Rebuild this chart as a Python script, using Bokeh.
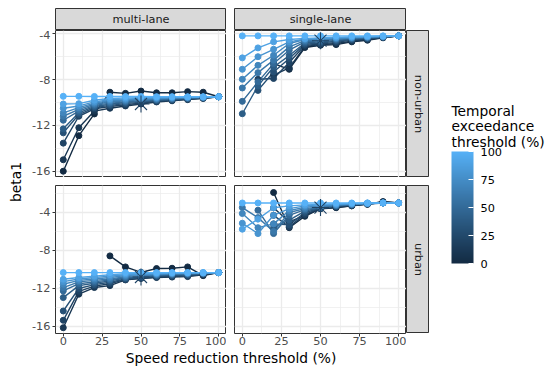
import math
from bokeh.plotting import figure
from bokeh.layouts import row, column
from bokeh.models import Range1d, FixedTicker, Label, ColorBar, LinearColorMapper, Spacer
from bokeh.embed import file_html
from bokeh.resources import INLINE

nan = float("nan")

# ---------------- data ----------------
speed_reduction = [0, 10, 20, 30, 40, 50, 60, 70, 80, 90, 100]
temporal_threshold = [0, 10, 20, 30, 40, 50, 60, 70, 80, 90, 100]
x_ticks = [0, 25, 50, 75, 100]
y_ticks = [-16, -12, -8, -4]
legend_ticks = [0, 25, 50, 75, 100]

# rows ordered by temporal_threshold (0 .. 100), columns by speed_reduction
beta_multi_nonurban = [
    [-16.0, -12.9, -11.0, -9.1, -9.2, -9.0, -9.15, -9.15, -9.05, -9.1, -9.5],
    [-15.0, -12.2, -10.75, -10.5, -10.3, -10.13, -9.95, -9.85, -9.75, -9.65, -9.5],
    [-13.55, -11.2, -10.55, -10.35, -10.2, -10.05, -9.9, -9.8, -9.7, -9.62, -9.5],
    [-12.65, -11.05, -10.45, -10.25, -10.1, -9.97, -9.85, -9.76, -9.67, -9.6, -9.5],
    [-12.3, -10.9, -10.35, -10.15, -10.0, -9.9, -9.8, -9.72, -9.64, -9.58, -9.5],
    [-11.55, -10.75, -10.25, -10.05, -9.94, -9.84, -9.75, -9.68, -9.61, -9.56, -9.5],
    [-11.2, -10.6, -10.15, -9.95, -9.86, -9.77, -9.7, -9.64, -9.58, -9.54, -9.5],
    [-10.9, -10.45, -10.05, -9.85, -9.78, -9.7, -9.65, -9.6, -9.56, -9.53, -9.5],
    [-10.5, -10.3, -9.95, -9.75, -9.7, -9.63, -9.6, -9.57, -9.54, -9.52, -9.5],
    [-10.13, -10.1, -9.8, -9.65, -9.6, -9.57, -9.55, -9.53, -9.52, -9.51, -9.5],
    [-9.46, -9.46, -9.47, -9.47, -9.48, -9.48, -9.49, -9.49, -9.5, -9.5, -9.5],
]
beta_single_nonurban = [
    [nan, nan, -6.6, -7.1, -5.2, -5.0, -4.94, -4.7, -4.56, -4.35, -4.18],
    [nan, nan, -7.6, -6.98, -5.1, -4.95, -4.85, -4.65, -4.5, -4.33, -4.18],
    [nan, -7.97, -7.9, -6.5, -5.0, -4.9, -4.75, -4.55, -4.45, -4.32, -4.18],
    [nan, -8.94, -7.33, -6.16, -4.9, -4.8, -4.65, -4.5, -4.4, -4.3, -4.18],
    [-10.98, -8.55, -6.9, -5.9, -4.8, -4.7, -4.58, -4.45, -4.36, -4.28, -4.18],
    [-9.9, -8.2, -6.6, -5.43, -4.7, -4.62, -4.5, -4.4, -4.33, -4.27, -4.18],
    [-8.73, -7.39, -6.3, -5.14, -4.6, -4.52, -4.45, -4.37, -4.3, -4.25, -4.18],
    [-7.97, -6.75, -5.87, -4.85, -4.5, -4.45, -4.4, -4.33, -4.28, -4.23, -4.18],
    [-7.1, -6.0, -5.35, -4.7, -4.45, -4.4, -4.35, -4.3, -4.26, -4.22, -4.18],
    [-6.1, -5.23, -4.7, -4.5, -4.4, -4.35, -4.3, -4.27, -4.24, -4.2, -4.18],
    [-4.18, -4.18, -4.18, -4.18, -4.18, -4.18, -4.18, -4.18, -4.18, -4.18, -4.18],
]
beta_multi_urban = [
    [nan, nan, nan, -8.57, -9.73, -10.3, -9.9, -9.87, -9.73, -10.65, -10.33],
    [-16.13, -12.6, -11.9, -11.7, -11.1, -10.95, -10.85, -10.8, -10.75, -10.55, -10.33],
    [-15.35, -12.3, -11.75, -11.5, -11.05, -10.9, -10.8, -10.72, -10.68, -10.5, -10.33],
    [-14.37, -12.0, -11.6, -11.35, -11.0, -10.85, -10.72, -10.65, -10.6, -10.47, -10.33],
    [-12.96, -11.7, -11.45, -11.2, -10.9, -10.8, -10.65, -10.58, -10.54, -10.44, -10.33],
    [-12.26, -11.5, -11.3, -11.1, -10.85, -10.75, -10.6, -10.52, -10.48, -10.41, -10.33],
    [-11.91, -11.3, -11.15, -11.0, -10.75, -10.65, -10.55, -10.48, -10.44, -10.39, -10.33],
    [-11.56, -11.15, -11.0, -10.85, -10.65, -10.55, -10.5, -10.45, -10.41, -10.37, -10.33],
    [-11.28, -11.0, -10.85, -10.7, -10.55, -10.5, -10.45, -10.41, -10.38, -10.35, -10.33],
    [-11.03, -10.85, -10.7, -10.55, -10.45, -10.42, -10.39, -10.37, -10.35, -10.34, -10.33],
    [-10.33, -10.33, -10.33, -10.33, -10.33, -10.33, -10.33, -10.33, -10.33, -10.33, -10.33],
]
beta_single_urban = [
    [nan, nan, -1.9, -5.6, -4.4, -3.6, -3.5, -3.3, -3.15, -2.85, -3.0],
    [nan, nan, -3.5, -5.0, -4.3, -3.6, -3.45, -3.3, -3.1, -2.9, -3.0],
    [nan, nan, -4.3, -5.5, -4.2, -3.55, -3.4, -3.25, -3.1, -2.95, -3.0],
    [nan, nan, -5.2, -5.3, -4.0, -3.55, -3.35, -3.2, -3.1, -3.0, -3.0],
    [nan, nan, -5.6, -4.8, -3.85, -3.5, -3.3, -3.2, -3.05, -3.0, -3.0],
    [nan, -3.76, -6.22, -4.3, -3.7, -3.48, -3.3, -3.15, -3.05, -3.0, -3.0],
    [-3.48, -4.54, -6.0, -4.0, -3.6, -3.4, -3.25, -3.15, -3.05, -3.0, -3.0],
    [-4.11, -5.6, -5.2, -3.8, -3.45, -3.3, -3.2, -3.1, -3.05, -3.0, -3.0],
    [-5.13, -6.22, -4.3, -3.6, -3.3, -3.2, -3.15, -3.1, -3.05, -3.0, -3.0],
    [-5.76, -4.7, -3.5, -3.3, -3.2, -3.15, -3.1, -3.05, -3.0, -3.0, -3.0],
    [-3.0, -3.0, -3.0, -3.0, -3.0, -3.0, -3.0, -3.0, -3.0, -3.0, -3.0],
]
star_speed = [50]
star_beta_multi_nonurban = [-10.13]
star_beta_single_nonurban = [-4.6]
star_beta_multi_urban = [-10.79]
star_beta_single_urban = [-3.48]

# ---------------- colour scale (ggplot default gradient, Lab interpolation) ----------------
LOW, HIGH = "#132B43", "#56B1F7"


def _to_lin(c):
    return c / 12.92 if c <= 0.04045 else ((c + 0.055) / 1.055) ** 2.4


def _from_lin(c):
    return 12.92 * c if c <= 0.0031308 else 1.055 * c ** (1 / 2.4) - 0.055


def _f(t):
    d = 6 / 29
    return t ** (1 / 3) if t > d ** 3 else t / (3 * d * d) + 4 / 29


def _finv(t):
    d = 6 / 29
    return t ** 3 if t > d else 3 * d * d * (t - 4 / 29)


WN = (0.95047, 1.0, 1.08883)


def hex_to_lab(h):
    r, g, b = [_to_lin(int(h[i:i + 2], 16) / 255) for i in (1, 3, 5)]
    X = 0.4124 * r + 0.3576 * g + 0.1805 * b
    Y = 0.2126 * r + 0.7152 * g + 0.0722 * b
    Z = 0.0193 * r + 0.1192 * g + 0.9505 * b
    fx, fy, fz = _f(X / WN[0]), _f(Y / WN[1]), _f(Z / WN[2])
    return (116 * fy - 16, 500 * (fx - fy), 200 * (fy - fz))


def lab_to_hex(L, a, b):
    fy = (L + 16) / 116
    fx = fy + a / 500
    fz = fy - b / 200
    X, Y, Z = WN[0] * _finv(fx), WN[1] * _finv(fy), WN[2] * _finv(fz)
    r = 3.2406 * X - 1.5372 * Y - 0.4986 * Z
    g = -0.9689 * X + 1.8758 * Y + 0.0415 * Z
    bb = 0.0557 * X - 0.2040 * Y + 1.0570 * Z
    out = []
    for c in (r, g, bb):
        v = _from_lin(min(max(c, 0.0), 1.0))
        out.append(int(round(min(max(v, 0.0), 1.0) * 255)))
    return "#%02x%02x%02x" % tuple(out)


LAB_LOW, LAB_HIGH = hex_to_lab(LOW), hex_to_lab(HIGH)


def ramp(t):
    return lab_to_hex(*[lo + (hi - lo) * t for lo, hi in zip(LAB_LOW, LAB_HIGH)])


palette = [ramp(i / 255) for i in range(256)]
line_colors = [ramp(t / 100) for t in temporal_threshold]
STAR_COLOR = ramp(0.2)

# ---------------- layout constants ----------------
FONT = "DejaVu Sans"
TICK_PX = "11.3px"
TITLE_PX = "13.8px"
MARGIN = 8     # outer margin (top / left)
LEFT = 29      # y tick-label border
GAP = 8        # panel spacing
FW = [171, 172]
FH = [147, 148]
SH = 22        # top strip height
SW = 23        # right strip width
YT = 18        # y title column width
BB = 16        # bottom axis border (minimum)
XTH = 18       # x title height
LW = 119       # legend column width
LH = 290

x_range = Range1d(-5, 105)
y_range_top = Range1d(-16.55, -3.71)
y_range_bottom = Range1d(-16.74, -1.16)


def text_fig(w, h):
    p = figure(width=w, height=h, x_range=Range1d(0, w), y_range=Range1d(0, h),
               min_border=0, x_axis_location=None, y_axis_location=None,
               toolbar_location=None, output_backend="svg")
    p.grid.visible = False
    p.outline_line_color = None
    return p


def strip(text, w, h, angle=0.0):
    p = text_fig(w, h)
    p.background_fill_color = "#D9D9D9"
    p.outline_line_color = "#333333"
    p.outline_line_width = 1
    p.add_layout(Label(x=w / 2, y=h / 2, text=text, angle=angle, text_align="center",
                       text_baseline="middle", text_font=FONT, text_font_size=TICK_PX,
                       text_color="#1A1A1A"))
    return p


def minor_of(ticks, lo, hi):
    step = ticks[1] - ticks[0]
    cands = [ticks[0] - step / 2] + [t + step / 2 for t in ticks]
    return [m for m in cands if lo <= m <= hi]


def panel(beta, star_beta, y_range, fw, fh, show_y, show_x, pad_left):
    p = figure(frame_width=fw, frame_height=fh, x_range=x_range, y_range=y_range,
               x_axis_location="below" if show_x else None,
               y_axis_location="left" if show_y else None,
               toolbar_location=None, output_backend="svg",
               min_border=0, min_border_left=pad_left,
               min_border_bottom=BB if show_x else 0)
    p.background_fill_color = "white"
    p.border_fill_color = "white"
    p.outline_line_color = "#333333"
    p.outline_line_width = 1
    for g in p.grid:
        g.axis = None
        if g.dimension == 0:
            g.ticker = FixedTicker(ticks=x_ticks,
                                   minor_ticks=minor_of(x_ticks, x_range.start, x_range.end))
        else:
            g.ticker = FixedTicker(ticks=y_ticks,
                                   minor_ticks=minor_of(y_ticks, y_range.start, y_range.end))
        g.grid_line_color = "#EBEBEB"
        g.grid_line_width = 1.3
        g.minor_grid_line_color = "#EBEBEB"
        g.minor_grid_line_width = 0.7
    axes = []
    if show_y:
        p.yaxis.ticker = FixedTicker(ticks=y_ticks)
        p.yaxis.major_label_overrides = {t: str(t) for t in y_ticks}
        p.yaxis.major_label_standoff = 2
        axes.append(p.yaxis)
    if show_x:
        p.xaxis.ticker = FixedTicker(ticks=x_ticks)
        p.xaxis.major_label_overrides = {t: str(t) for t in x_ticks}
        p.xaxis.major_label_standoff = 0
        p.xaxis.major_label_text_line_height = 1.0
        axes.append(p.xaxis)
    for ax in axes:
        ax.axis_line_color = None
        ax.minor_tick_line_color = None
        ax.major_tick_in = 0
        ax.major_tick_out = 3
        ax.major_tick_line_color = "#333333"
        ax.major_label_text_font = FONT
        ax.major_label_text_font_size = TICK_PX
        ax.major_label_text_color = "#4D4D4D"
    for vals, col in zip(beta, line_colors):
        p.line(speed_reduction, vals, line_color=col, line_width=1.4)
    for vals, col in zip(beta, line_colors):
        p.scatter(speed_reduction, vals, size=6, fill_color=col, line_color=col)
    p.scatter(star_speed, star_beta, marker="asterisk", size=17,
              line_color=STAR_COLOR, line_width=1.1)
    return p


tl = panel(beta_multi_nonurban, star_beta_multi_nonurban, y_range_top, FW[0], FH[0], True, False, LEFT)
tr = panel(beta_single_nonurban, star_beta_single_nonurban, y_range_top, FW[1], FH[0], False, False, GAP)
bl = panel(beta_multi_urban, star_beta_multi_urban, y_range_bottom, FW[0], FH[1], True, True, LEFT)
br = panel(beta_single_urban, star_beta_single_urban, y_range_bottom, FW[1], FH[1], False, True, GAP)

top_strips = row(Spacer(width=LEFT, height=SH), strip("multi-lane", FW[0], SH),
                 Spacer(width=GAP, height=SH), strip("single-lane", FW[1], SH))
row1 = row(tl, tr, strip("non-urban", SW, FH[0], -math.pi / 2))
row2 = row(bl, br, column(strip("urban", SW, FH[1], -math.pi / 2), Spacer(width=SW, height=BB)))

XW = LEFT + FW[0] + GAP + FW[1]
xt = text_fig(XW, XTH)
xt.add_layout(Label(x=LEFT + (FW[0] + GAP + FW[1]) / 2, y=XTH, text="Speed reduction threshold (%)",
                    text_align="center", text_baseline="top", text_font=FONT,
                    text_font_size=TITLE_PX, text_color="black"))

main = column(top_strips, row1, Spacer(width=XW, height=GAP), row2, xt)

YH = SH + FH[0] + GAP + FH[1]
yt = text_fig(YT, YH)
yt.add_layout(Label(x=7, y=YH - (SH + (FH[0] + GAP + FH[1]) / 2), text="beta1", angle=math.pi / 2,
                    text_align="center", text_baseline="middle", text_font=FONT,
                    text_font_size=TITLE_PX, text_color="black"))

# legend
lg = text_fig(LW, LH)
for i, line in enumerate(["Temporal", "exceedance", "threshold (%)"]):
    lg.add_layout(Label(x=22, y=LH - (102 + 15.5 * i), text=line, text_align="left",
                        text_baseline="alphabetic", text_font=FONT, text_font_size=TITLE_PX,
                        text_color="black"))
mapper = LinearColorMapper(palette=palette, low=0, high=100)
cb = ColorBar(color_mapper=mapper, ticker=FixedTicker(ticks=legend_ticks),
              orientation="vertical", width=22, height=112,
              location=(22, LH - 255), padding=0, title=None,
              bar_line_color=None, border_line_color=None, background_fill_color=None,
              major_tick_line_color="white", major_tick_in=5, major_tick_out=0,
              minor_tick_line_color=None, label_standoff=7,
              major_label_text_font=FONT, major_label_text_font_size=TICK_PX,
              major_label_text_color="black")
lg.add_layout(cb)

layout = column(Spacer(width=10, height=MARGIN),
                row(Spacer(width=MARGIN, height=10), yt, main, lg))

open("out.html", "w").write(file_html(layout, INLINE))
